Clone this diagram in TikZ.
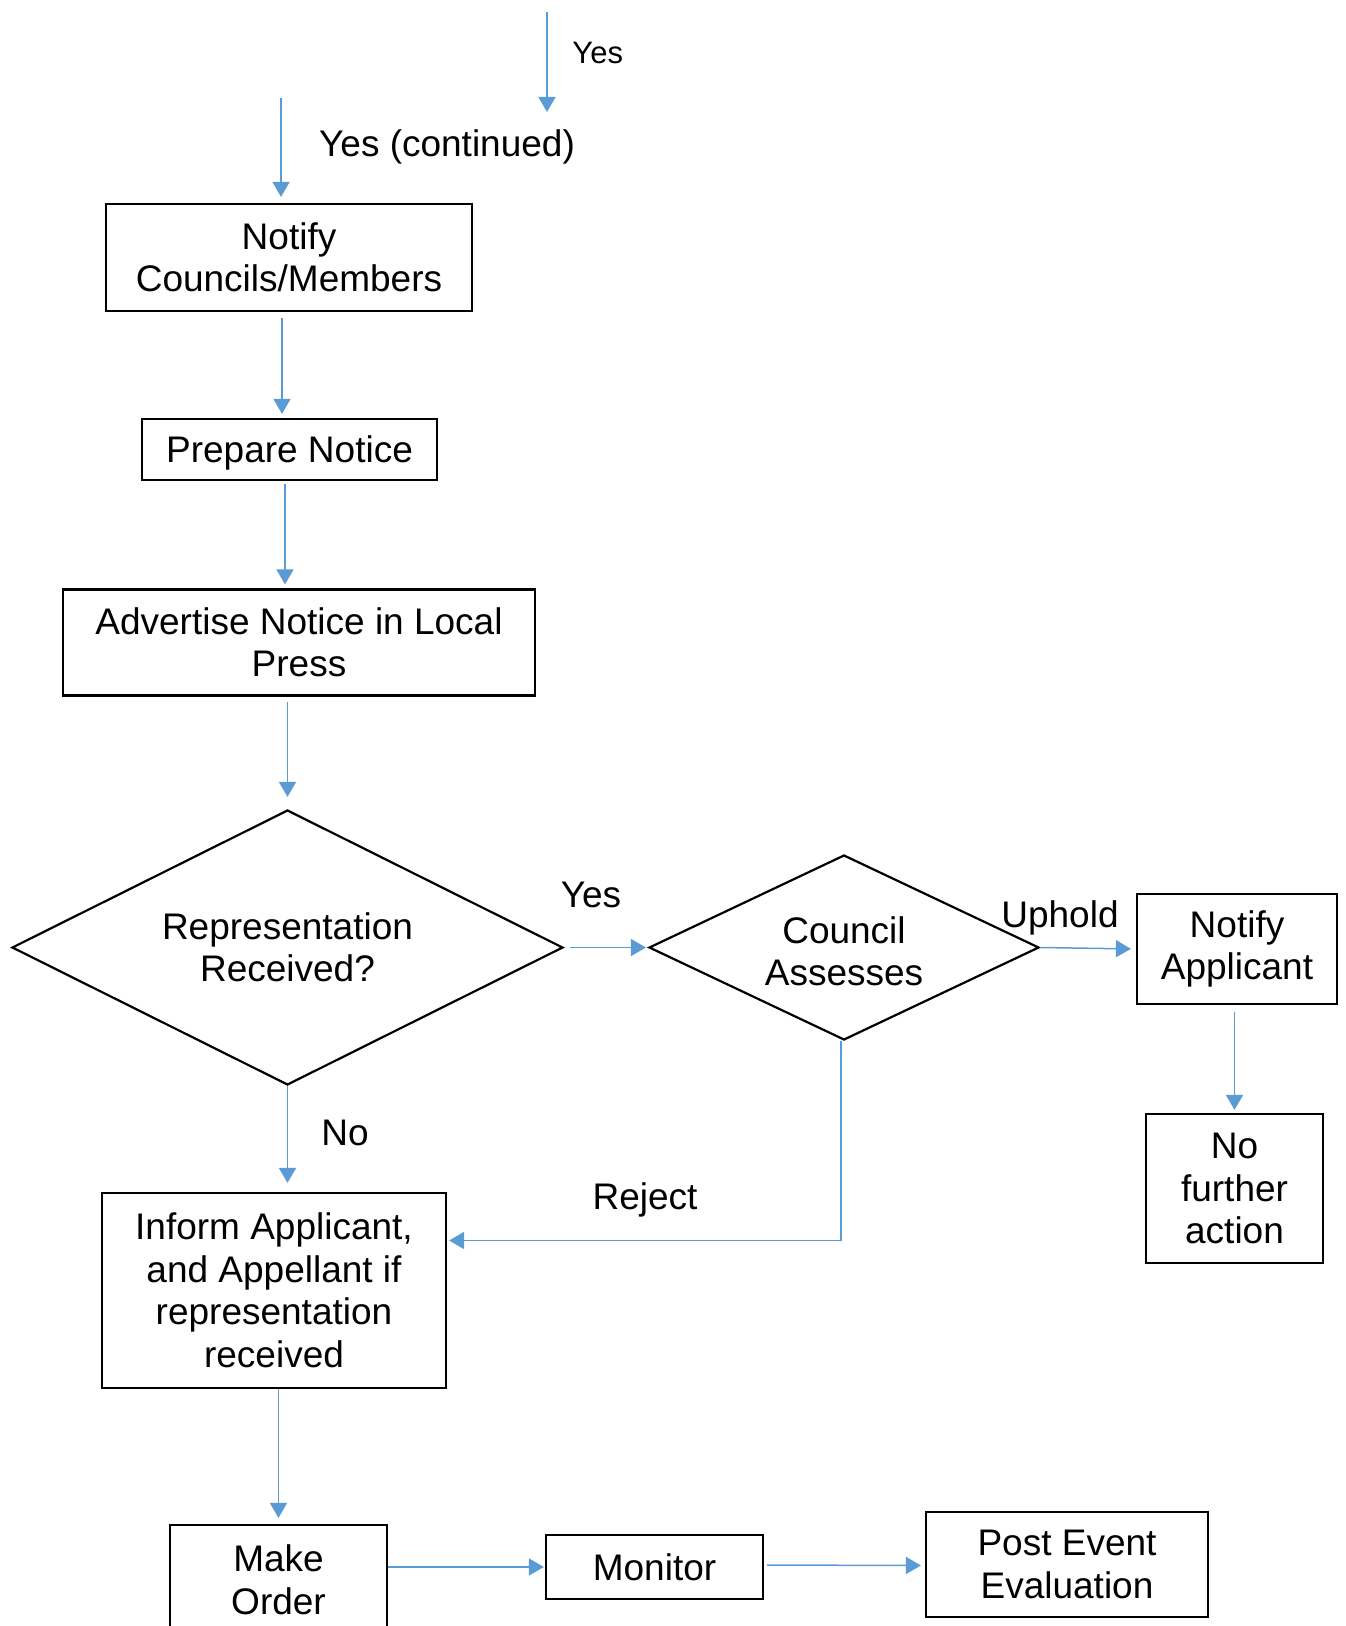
\documentclass[tikz,border=0pt]{standalone}
\usepackage{fontspec}
\setmainfont{Liberation Sans}
\usepackage{xcolor}
\usetikzlibrary{shapes.geometric,positioning,calc,arrows.meta}

\definecolor{linkblue}{HTML}{5B9BD5}

\begin{document}
\begin{tikzpicture}[x=0.5pt, y=-0.5pt,
    every node/.style={font=\fontsize{18.5pt}{21.25pt}\selectfont},
    box/.style={draw, line width=1.1pt, inner sep=0pt, align=center},
    decision/.style={diamond, draw, line width=1.1pt, inner sep=0pt, align=center},
    link/.style={draw=linkblue, line width=0.75pt, -{Triangle[length=7.5pt,width=8.5pt]},
                 shorten <=1.5pt, shorten >=2pt},
    lbl/.style={inner sep=0pt, text depth=0pt}]
  \useasboundingbox (0,0) rectangle (1345,1626);
  \clip (0,0) rectangle (1345,1626);

  % incoming branches
  \coordinate (yesA) at (547,12);
  \coordinate (yesB) at (547,112);
  \coordinate (cont) at (281,98);
  \node[lbl, anchor=west, font=\fontsize{15.5pt}{18pt}\selectfont] (yesTop) at (572,53) {Yes};
  \node[lbl] (yesCont) at (447,143) {Yes (continued)};

  % main column
  \node[box, minimum width=183pt, minimum height=53.5pt] (notify) at (289,257.5) {Notify\\Councils/Members};
  \node[box, minimum width=147.5pt, minimum height=30.5pt, text depth=0pt] (prep) at (289.5,449.5) {Prepare Notice};
  \node[box, minimum width=236pt, minimum height=53pt] (advert) at (299,642.5) {Advertise Notice in Local\\Press};
  \node[decision, minimum width=275.5pt, minimum height=137.5pt, aspect=2] (repr) at (287.5,947.5) {Representation\\Received?};
  \node[box, minimum width=172pt, minimum height=97.5pt] (inform) at (274,1290.5) {Inform Applicant,\\and Appellant if\\representation\\received};
  \node[box, minimum width=108.5pt, minimum height=55pt] (order) at (278.5,1580) {Make\\Order};

  % right branch
  \node[decision, minimum width=195pt, minimum height=92.5pt, aspect=2.1,
        label={[align=center, inner sep=0pt, yshift=-2pt]center:{Council\\Assesses}}] (assess) at (844,947.5) {};
  \node[box, minimum width=100pt, minimum height=55pt] (notifyApp) at (1237,949) {Notify\\Applicant};
  \node[box, minimum width=88.5pt, minimum height=74.5pt] (noAction) at (1234.5,1188.5) {No\\further\\action};

  % bottom row
  \node[box, minimum width=108.5pt, minimum height=32pt] (monitor) at (654.5,1567) {Monitor};
  \node[box, minimum width=141pt, minimum height=52.5pt] (postEval) at (1067,1564.5) {Post Event\\Evaluation};

  % connectors
  \draw[link, shorten <=0pt, shorten >=0pt] (yesA) -- (yesB);
  \draw[link, shorten <=0pt, shorten >=3pt] (cont) -- (cont |- notify.north);
  \draw[link, shorten <=3pt] ([xshift=-3.5pt]notify.south) -- ([xshift=-3.5pt]notify.south |- prep.north);
  \draw[link] ([xshift=-2.25pt]prep.south) -- ([xshift=-2.25pt]prep.south |- advert.north);
  \draw[link, shorten <=2.5pt, shorten >=6pt] (advert.south -| repr.north) -- (repr.north);
  \draw[link, shorten <=3pt, shorten >=1pt] (repr.east) -- (assess.west);
  \draw[link, shorten <=0pt, shorten >=2.5pt] (assess.east) -- (notifyApp.west);
  \draw[link, shorten <=3.5pt, shorten >=1.5pt] (notifyApp.south -| noAction.north) -- (noAction.north);
  \draw[link, shorten <=0pt, shorten >=4.5pt] (repr.south) -- (repr.south |- inform.north);
  \draw[link, shorten <=0pt, shorten >=1pt] ([xshift=-1.5pt]assess.south) |- ([yshift=25pt]inform.east);
  \draw[link, shorten <=0pt, shorten >=3pt] (inform.south -| order.north) -- (order.north);
  \draw[link, shorten <=0pt, shorten >=0.5pt] (order.east |- monitor.west) -- (monitor.west);
  \draw[link] ([yshift=1pt]monitor.east) -- ([yshift=-0.5pt]postEval.west);

  % branch labels
  \node[lbl] (yesLbl) at (591,895) {Yes};
  \node[lbl] (upholdLbl) at (1060,914) {Uphold};
  \node[lbl] (noLbl) at (345,1133) {No};
  \node[lbl] (rejectLbl) at (645,1196) {Reject};
\end{tikzpicture}
\end{document}
